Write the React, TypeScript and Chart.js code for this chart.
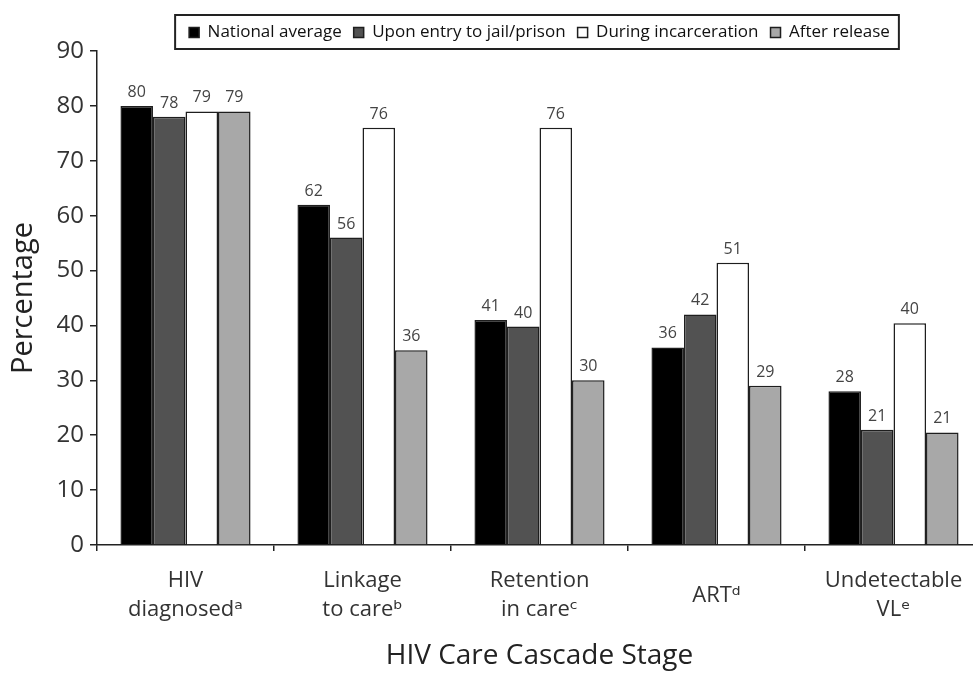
import React, { useEffect, useRef } from "react";
import { Chart, registerables } from "chart.js";

Chart.register(...registerables);

const categories = [
  ["HIV", "diagnosedᵃ"],
  ["Linkage", "to careᵇ"],
  ["Retention", "in careᶜ"],
  ["ARTᵈ"],
  ["Undetectable", "VLᵉ"],
];
const seriesNames = [
  "National average",
  "Upon entry to jail/prison",
  "During incarceration",
  "After release",
];
const nationalAverage = [80, 62, 41, 36, 28];
const uponEntry = [78, 56, 39.8, 42, 21];
const duringIncarceration = [79, 76, 76, 51.4, 40.4];
const afterRelease = [79, 35.5, 30, 29, 20.5];
const seriesColors = ["#000000", "#525252", "#ffffff", "#a8a8a8"];
const yMin = 0;
const yMax = 90;
const yStep = 10;

const FONT = '"Open Sans", "DejaVu Sans", sans-serif';

const valueLabels = {
  id: "valueLabels",
  afterDatasetsDraw(chart: any) {
    const ctx = chart.ctx;
    ctx.save();
    ctx.font = `16px ${FONT}`;
    ctx.fillStyle = "#444";
    ctx.textAlign = "center";
    ctx.textBaseline = "alphabetic";
    chart.data.datasets.forEach((ds: any, di: number) => {
      const meta = chart.getDatasetMeta(di);
      meta.data.forEach((el: any, i: number) => {
        ctx.fillText(String(Math.round(ds.data[i])), el.x, el.y - 9);
      });
    });
    ctx.restore();
  },
};

const legendBorder = {
  id: "legendBorder",
  afterDraw(chart: any) {
    const lg = chart.legend;
    if (!lg || !lg.legendHitBoxes || !lg.legendHitBoxes.length) return;
    const boxes = lg.legendHitBoxes;
    const left = Math.min(...boxes.map((b: any) => b.left)) - 14;
    const right = Math.max(...boxes.map((b: any) => b.left + b.width)) + 9;
    const top = Math.min(...boxes.map((b: any) => b.top)) - 9;
    const bottom = Math.max(...boxes.map((b: any) => b.top + b.height)) + 8;
    const ctx = chart.ctx;
    ctx.save();
    ctx.strokeStyle = "#222";
    ctx.lineWidth = 2;
    ctx.strokeRect(left, top, right - left, bottom - top);
    ctx.restore();
  },
};

export default function App() {
  const ref = useRef<HTMLCanvasElement | null>(null);

  useEffect(() => {
    if (!ref.current) return;
    Chart.defaults.font.family = FONT;
    const seriesData = [nationalAverage, uponEntry, duringIncarceration, afterRelease];
    const chart = new Chart(ref.current, {
      type: "bar",
      data: {
        labels: categories,
        datasets: seriesNames.map((name, i) => ({
          label: name,
          data: seriesData[i],
          backgroundColor: seriesColors[i],
          borderColor: "#1e1e1e",
          borderWidth: 1.5,
          categoryPercentage: 0.735,
          barPercentage: 1,
        })),
      },
      options: {
        responsive: false,
        animation: false,
        devicePixelRatio: 1,
        layout: { padding: { top: 12, left: 0, right: 0, bottom: 0 } },
        plugins: {
          legend: {
            display: true,
            position: "top",
            fullSize: false,
            labels: {
              boxWidth: 10,
              boxHeight: 10,
              padding: 12,
              color: "#111",
              font: { size: 17, family: FONT },
            },
          },
          tooltip: { enabled: false },
        },
        scales: {
          x: {
            type: "category",
            offset: true,
            grid: {
              display: true,
              offset: true,
              drawOnChartArea: false,
              drawTicks: true,
              tickLength: 6,
              color: "#222",
              lineWidth: 1.5,
            },
            border: { display: true, color: "#222", width: 1.5 },
            ticks: {
              font: { size: 22, family: FONT, lineHeight: 1.3 },
              color: "#333",
              padding: 30,
              crossAlign: "center",
              maxRotation: 0,
              minRotation: 0,
              autoSkip: false,
            },
            title: {
              display: true,
              text: "HIV Care Cascade Stage",
              font: { size: 28, family: FONT },
              color: "#222",
              padding: { top: 0, bottom: 0 },
            },
            afterFit: (s: any) => {
              s.height = 128;
              s.paddingLeft = 0;
              s.paddingRight = 0;
            },
          },
          y: {
            min: yMin,
            max: yMax,
            ticks: {
              stepSize: yStep,
              font: { size: 24, family: FONT },
              color: "#333",
              padding: 6,
            },
            grid: {
              display: true,
              drawOnChartArea: false,
              drawTicks: true,
              tickLength: 7,
              color: "#222",
              lineWidth: 1.5,
            },
            border: { display: true, color: "#222", width: 1.5 },
            title: {
              display: true,
              text: "Percentage",
              font: { size: 29, family: FONT },
              color: "#222",
              padding: { top: 6, bottom: 0 },
            },
            afterFit: (s: any) => {
              s.width = 97;
            },
          },
        },
      },
      plugins: [valueLabels, legendBorder],
    } as any);
    return () => chart.destroy();
  }, []);

  return (
    <div
      style={{
        position: "absolute",
        left: 0,
        top: 0,
        width: 973,
        height: 673,
        overflow: "hidden",
        background: "#fff",
      }}
    >
      <canvas ref={ref} width={982} height={673} style={{ display: "block" }} />
    </div>
  );
}
